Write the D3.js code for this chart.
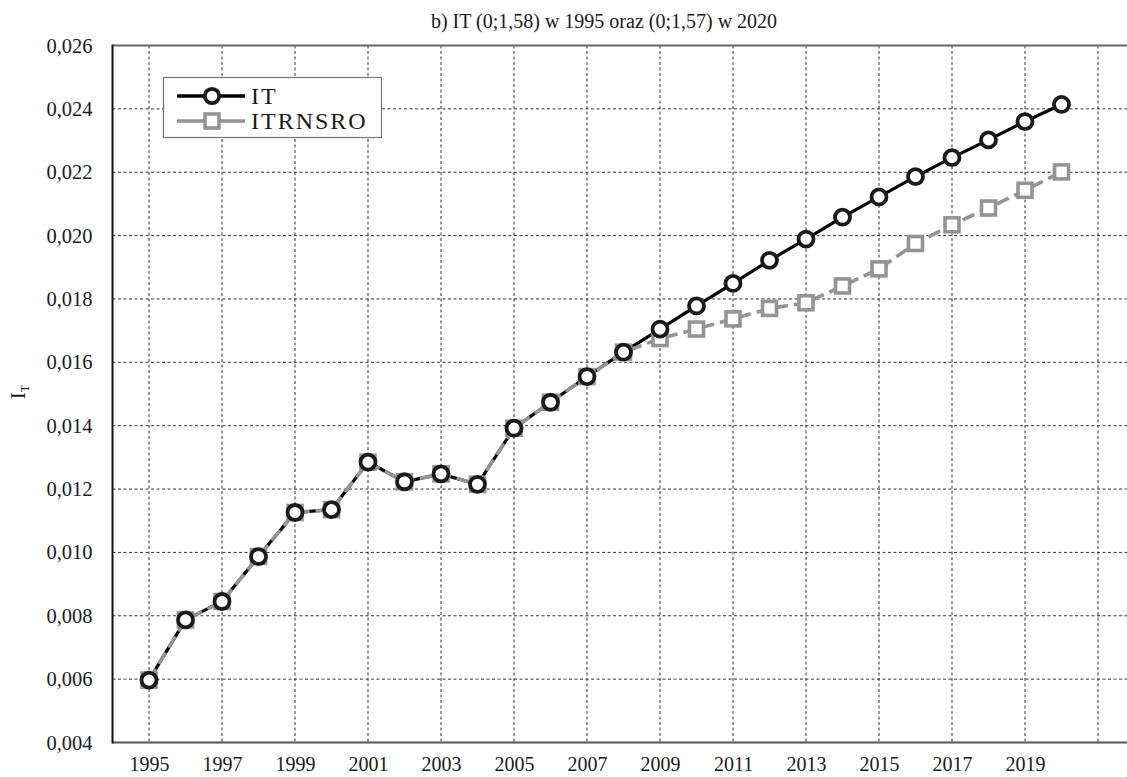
<!DOCTYPE html>
<html>
<head>
<meta charset="utf-8">
<script src="https://cdn.jsdelivr.net/npm/d3@7/dist/d3.min.js"></script>
<style>
  html, body { margin: 0; padding: 0; background: #fff; }
  svg { display: block; font-family: "Liberation Serif", "DejaVu Serif", serif; }
</style>
</head>
<body>
<svg id="chart" width="1127" height="777"></svg>
<script>
const title = "b) IT (0;1,58) w 1995 oraz (0;1,57) w 2020";
const years = [1995,1996,1997,1998,1999,2000,2001,2002,2003,2004,2005,2006,2007,2008,2009,2010,2011,2012,2013,2014,2015,2016,2017,2018,2019,2020];
const itValues = [0.00597,0.00787,0.00845,0.00987,0.01126,0.01135,0.01285,0.01223,0.01248,0.01215,0.01392,0.01474,0.01555,0.01632,0.01705,0.01778,0.01849,0.01922,0.01989,0.02058,0.02122,0.02186,0.02246,0.02302,0.02360,0.02414];
const itrnsroValues = [0.00597,0.00787,0.00845,0.00987,0.01126,0.01135,0.01285,0.01223,0.01248,0.01215,0.01392,0.01474,0.01555,0.01632,0.01675,0.01705,0.01737,0.01770,0.01788,0.01841,0.01895,0.01975,0.02034,0.02087,0.02143,0.02201];
const xTicks = [1995,1997,1999,2001,2003,2005,2007,2009,2011,2013,2015,2017,2019,2021];
const xTickLabels = ["1995","1997","1999","2001","2003","2005","2007","2009","2011","2013","2015","2017","2019",""];
const yTicks = [0.004,0.006,0.008,0.010,0.012,0.014,0.016,0.018,0.020,0.022,0.024,0.026];
const seriesNames = ["IT", "ITRNSRO"];

(function () {
const svg = d3.select("#chart");
const pLeft = 112.5, pRight = 1134.5, pTop = 45.5, pBottom = 742.5;
const x = d3.scaleLinear().domain([1994, 2022]).range([pLeft, pRight]);
const y = d3.scaleLinear().domain([0.004, 0.026]).range([pBottom, pTop]);
const fmt = v => d3.format(".3f")(v).replace(".", ",");
const FONT = "Liberation Serif, serif";

// Gridlines
const grid = svg.append("g");
grid.selectAll("line.gx").data(xTicks).join("line")
  .attr("x1", d => x(d)).attr("x2", d => x(d))
  .attr("y1", pTop).attr("y2", pBottom)
  .attr("stroke", "#333").attr("stroke-width", 1).attr("stroke-dasharray", "3,2.5");
grid.selectAll("line.gy").data(yTicks.filter(v => v > 0.0041 && v < 0.0259)).join("line")
  .attr("x1", pLeft).attr("x2", 1127)
  .attr("y1", d => y(d)).attr("y2", d => y(d))
  .attr("stroke", "#333").attr("stroke-width", 1).attr("stroke-dasharray", "3,2.5");

// Frame
svg.append("line").attr("x1", pLeft).attr("x2", 1127).attr("y1", pTop).attr("y2", pTop)
  .attr("stroke", "#666").attr("stroke-width", 2);
svg.append("line").attr("x1", pLeft).attr("x2", 1127).attr("y1", pBottom).attr("y2", pBottom)
  .attr("stroke", "#555").attr("stroke-width", 2);
svg.append("line").attr("x1", pLeft).attr("x2", pLeft).attr("y1", pTop - 1).attr("y2", pBottom + 1)
  .attr("stroke", "#111").attr("stroke-width", 2);

// Axes (labels via d3 axis)
const yAxis = d3.axisLeft(y).tickValues(yTicks).tickFormat(fmt).tickSize(0).tickPadding(20);
const gy = svg.append("g").attr("transform", `translate(${pLeft},0)`).call(yAxis)
  .attr("font-family", FONT).attr("font-size", 20.5);
gy.select(".domain").remove();
gy.selectAll("text").attr("fill", "#1a1a1a");

const xAxis = d3.axisBottom(x).tickValues(xTicks).tickFormat((d, i) => xTickLabels[i]).tickSize(0).tickPadding(14);
const gx = svg.append("g").attr("transform", `translate(0,${pBottom})`).call(xAxis)
  .attr("font-family", FONT).attr("font-size", 20);
gx.select(".domain").remove();
gx.selectAll("text").attr("fill", "#1a1a1a");

// Title
svg.append("text").attr("x", 604).attr("y", 28).attr("text-anchor", "middle")
  .attr("font-family", FONT).attr("font-size", 20).attr("fill", "#1a1a1a").text(title);

// Y label
const yl = svg.append("text").attr("transform", "translate(25,392) rotate(-90)")
  .attr("text-anchor", "middle").attr("font-family", FONT).attr("font-size", 21).attr("fill", "#1a1a1a");
yl.append("tspan").text("I");
yl.append("tspan").attr("font-size", 12).attr("dy", 4).text("T");

const itData = years.map((yr, i) => ({ x: yr, y: itValues[i] }));
const roData = years.map((yr, i) => ({ x: yr, y: itrnsroValues[i] }));
const line = d3.line().x(d => x(d.x)).y(d => y(d.y));

const black = "#1a1a1a", gray = "#949494";

svg.append("path").datum(itData).attr("d", line)
  .attr("fill", "none").attr("stroke", "#000").attr("stroke-width", 3.2);
svg.append("path").datum(roData).attr("d", line)
  .attr("fill", "none").attr("stroke", gray).attr("stroke-width", 3.6)
  .attr("stroke-dasharray", "13,6");

const sq = 14;
svg.selectAll("rect.ro").data(roData).join("rect")
  .attr("x", d => x(d.x) - sq / 2).attr("y", d => y(d.y) - sq / 2)
  .attr("width", sq).attr("height", sq)
  .attr("fill", "#fff").attr("stroke", gray).attr("stroke-width", 3.6);
svg.selectAll("circle.it").data(itData).join("circle")
  .attr("cx", d => x(d.x)).attr("cy", d => y(d.y)).attr("r", 7.5)
  .attr("fill", "#fff").attr("stroke", black).attr("stroke-width", 3.8);

// Legend
const lg = svg.append("g");
lg.append("rect").attr("x", 163.5).attr("y", 77.5).attr("width", 218).attr("height", 60)
  .attr("fill", "#fff").attr("stroke", "#777").attr("stroke-width", 1.2);
const lgItems = [
  { name: seriesNames[0], yy: 96 },
  { name: seriesNames[1], yy: 121 }
];
lg.append("line").attr("x1", 177).attr("x2", 245).attr("y1", 96).attr("y2", 96)
  .attr("stroke", "#000").attr("stroke-width", 3.4);
lg.append("circle").attr("cx", 212).attr("cy", 96).attr("r", 7.2)
  .attr("fill", "#fff").attr("stroke", black).attr("stroke-width", 3.8);
lg.append("line").attr("x1", 177).attr("x2", 245).attr("y1", 121).attr("y2", 121)
  .attr("stroke", gray).attr("stroke-width", 3.6);
lg.append("rect").attr("x", 212 - sq / 2).attr("y", 121 - sq / 2).attr("width", sq).attr("height", sq)
  .attr("fill", "#fff").attr("stroke", gray).attr("stroke-width", 3.6);
lg.selectAll("text.lt").data(lgItems).join("text")
  .attr("x", 251).attr("y", d => d.yy + 8).attr("font-family", FONT)
  .attr("font-size", 24).attr("letter-spacing", 2).attr("fill", "#1a1a1a")
  .text(d => d.name);
})();
</script>
</body>
</html>
